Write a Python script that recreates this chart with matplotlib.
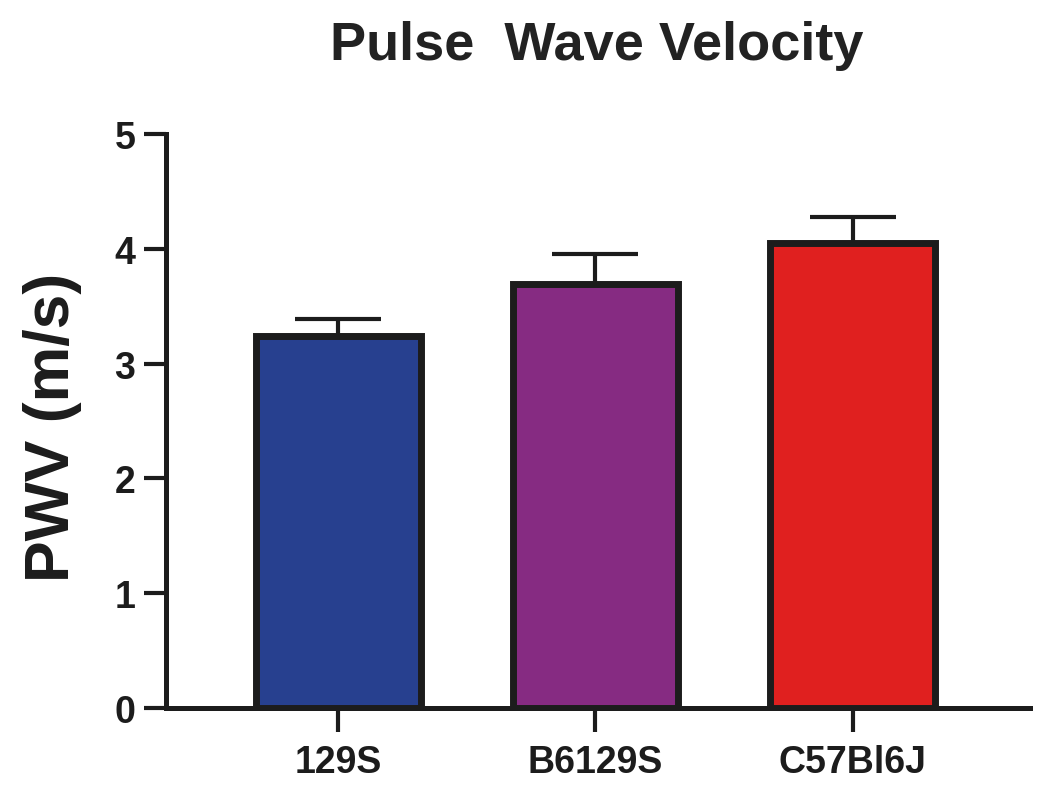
import matplotlib.pyplot as plt
from matplotlib import font_manager

strains = ["129S", "B6129S", "C57Bl6J"]
pwv_mean = [3.24, 3.69, 4.05]
pwv_sem = [0.15, 0.26, 0.23]
bar_colors = ["#27408F", "#862B82", "#E0201F"]

names = {f.name for f in font_manager.fontManager.ttflist}
narrow = "Liberation Sans Narrow" if "Liberation Sans Narrow" in names else "Liberation Sans"
plt.rcParams['font.family'] = ['Liberation Sans', 'DejaVu Sans']
ink = "#1c1c1c"

fig = plt.figure(figsize=(10.5, 8.03), dpi=100)
ax = fig.add_axes([0.158, 0.117, 0.823, 0.715])

x = range(len(strains))
ax.bar(x, pwv_mean, width=0.64, color=bar_colors, edgecolor=ink, linewidth=5, zorder=3)
ax.errorbar(x, pwv_mean, yerr=[[0] * 3, pwv_sem], fmt="none", ecolor=ink,
            elinewidth=3, capsize=31, capthick=3, zorder=2)

ax.set_xlim(-0.67, 2.69)
ax.set_ylim(0, 5)
ax.set_yticks([0, 1, 2, 3, 4, 5])
ax.set_xticks(list(x))
xsize = 30 if narrow != "Liberation Sans" else 27
ax.set_xticklabels(strains, fontfamily=narrow, fontweight="bold", fontsize=xsize, color=ink)
for lab in ax.get_yticklabels():
    lab.set_fontweight("bold")
    lab.set_fontsize(27)
    lab.set_color(ink)

for s in ["top", "right"]:
    ax.spines[s].set_visible(False)
for s in ["left", "bottom"]:
    ax.spines[s].set_linewidth(3.6)
    ax.spines[s].set_color(ink)
ax.tick_params(axis="y", length=16, width=3, pad=6, color=ink)
ax.tick_params(axis="x", length=17, width=3, pad=9, color=ink)

ax.set_ylabel("PWV (m/s)", fontsize=45, fontweight="bold", color=ink)
ax.yaxis.set_label_coords(-0.097, 0.49)

fig.text(0.568, 0.925, "Pulse  Wave Velocity", ha="center", va="baseline",
         fontsize=39, fontweight="bold", color="#222222")

fig.savefig("out.png", dpi=100)
